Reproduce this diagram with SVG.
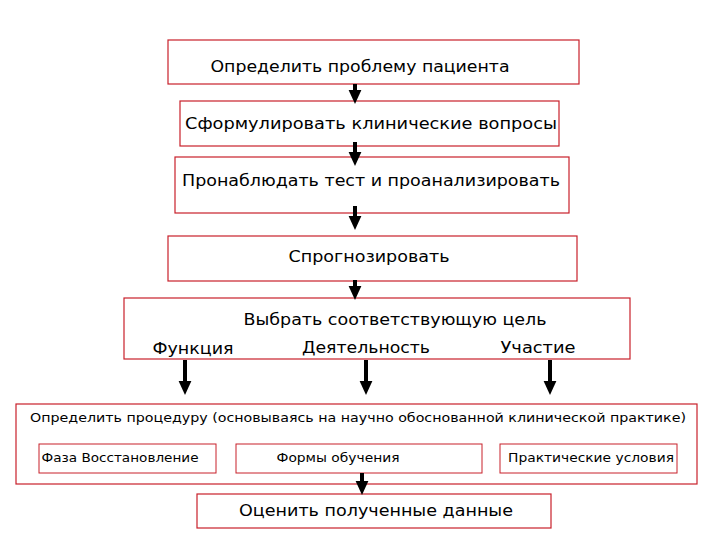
<svg xmlns="http://www.w3.org/2000/svg" width="720" height="540" viewBox="0 0 720 540">
<style>
.b{fill:#fff;stroke:#c8202a;stroke-width:1.2}
.s{fill:#fff;stroke:#c8202a;stroke-width:1}
.t{font-family:"DejaVu Sans",Verdana,sans-serif;fill:#000;text-anchor:middle}
.c line{stroke:#000;stroke-width:4}
</style>
<defs><marker id="a" markerWidth="4" markerHeight="4" refX="1" refY="2" orient="auto" markerUnits="strokeWidth"><path d="M0,0.4L3.5,2L0,3.6z" fill="#000"/></marker></defs>
<rect width="720" height="540" fill="#fff"/>
<g id="n1"><rect class="b" x="168" y="40" width="411" height="44"/><text class="t" x="360" y="72" font-size="16" textLength="299" lengthAdjust="spacingAndGlyphs">Определить проблему пациента</text></g>
<g id="n2"><rect class="b" x="180" y="101" width="379" height="45"/><text class="t" x="371" y="129" font-size="16" textLength="372" lengthAdjust="spacingAndGlyphs">Сформулировать клинические вопросы</text></g>
<g id="n3"><rect class="b" x="175" y="157" width="394" height="56"/><text class="t" x="371" y="186" font-size="16" textLength="378" lengthAdjust="spacingAndGlyphs">Пронаблюдать тест и проанализировать</text></g>
<g id="n4"><rect class="b" x="168" y="236" width="409" height="45"/><text class="t" x="369" y="262" font-size="16" textLength="161" lengthAdjust="spacingAndGlyphs">Спрогнозировать</text></g>
<g id="n5"><rect class="b" x="124" y="298" width="506" height="61"/><text class="t" x="395" y="325" font-size="16" textLength="303" lengthAdjust="spacingAndGlyphs">Выбрать соответствующую цель</text>
<text class="t" x="193" y="354" font-size="16" textLength="81" lengthAdjust="spacingAndGlyphs">Функция</text><text class="t" x="366" y="353" font-size="16" textLength="128" lengthAdjust="spacingAndGlyphs">Деятельность</text><text class="t" x="538" y="353" font-size="16" textLength="75" lengthAdjust="spacingAndGlyphs">Участие</text></g>
<g id="n6"><rect class="b" x="16" y="404" width="681" height="80"/><text class="t" x="358" y="422" font-size="13" textLength="656" lengthAdjust="spacingAndGlyphs">Определить процедуру (основываясь на научно обоснованной клинической практике)</text></g>
<g id="n7"><rect class="s" x="39" y="444" width="177" height="29"/><text class="t" x="120" y="462" font-size="13" textLength="157" lengthAdjust="spacingAndGlyphs">Фаза Восстановление</text></g>
<g id="n8"><rect class="s" x="236" y="444" width="246" height="29"/><text class="t" x="338" y="462" font-size="13" textLength="123" lengthAdjust="spacingAndGlyphs">Формы обучения</text></g>
<g id="n9"><rect class="s" x="500" y="444" width="177" height="29"/><text class="t" x="591" y="462" font-size="13" textLength="166" lengthAdjust="spacingAndGlyphs">Практические условия</text></g>
<g id="n10"><rect class="b" x="197" y="494" width="354" height="34"/><text class="t" x="376" y="516" font-size="16" textLength="274" lengthAdjust="spacingAndGlyphs">Оценить полученные данные</text></g>
<g class="c" id="connectors">
<line x1="355" y1="84" x2="355" y2="94" marker-end="url(#a)"/>
<line x1="355" y1="142" x2="355" y2="156" marker-end="url(#a)"/>
<line x1="355" y1="206" x2="355" y2="220" marker-end="url(#a)"/>
<line x1="355" y1="280" x2="355" y2="290" marker-end="url(#a)"/>
<line x1="185" y1="360" x2="185" y2="385" marker-end="url(#a)"/>
<line x1="366" y1="360" x2="366" y2="385" marker-end="url(#a)"/>
<line x1="550" y1="360" x2="550" y2="385" marker-end="url(#a)"/>
<line x1="362" y1="473" x2="362" y2="485" marker-end="url(#a)"/>
</g>
</svg>
